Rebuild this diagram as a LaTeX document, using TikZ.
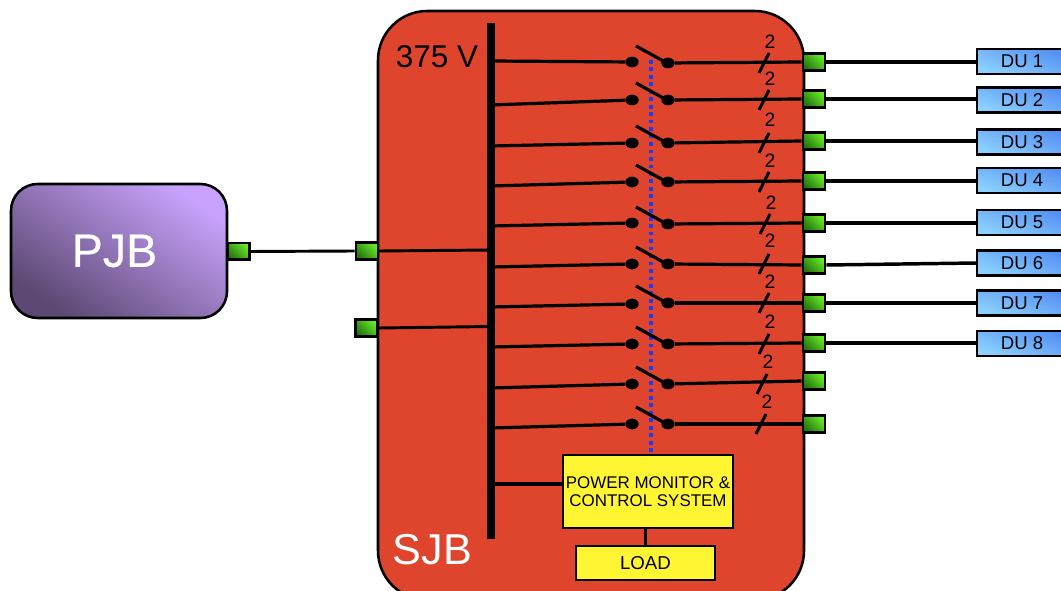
\documentclass[tikz,border=0pt]{standalone}
\usepackage{fontspec}
\usetikzlibrary{calc,shapes.geometric}
\setmainfont{Liberation Sans}
\newfontfamily\pjbfont[FakeBold=0.5]{Liberation Sans}
\tikzset{
  wire/.style={draw=black,line width=2.4pt},
  thinwire/.style={draw=black,line width=2.2pt},
  duwire/.style={draw=black,line width=2.6pt},
  portbox/.style={draw=black,line width=2pt,inner sep=0pt,minimum width=16.5pt,minimum height=12.5pt,
    shading=axis,left color=darkgreenport,right color=lightgreenport,shading angle=135},
  dubox/.style={draw=black,line width=1.8pt,inner sep=0pt,minimum width=67.5pt,minimum height=18.8pt,
    shading=axis,left color=dulight,right color=dudark,shading angle=160},
  yellowbox/.style={draw=black,line width=1.9pt,fill=boxyellow,inner sep=0pt},
  contact/.style={ellipse,fill=black,inner sep=0pt,minimum width=10pt,minimum height=8pt},
  dulabel/.style={font=\fontsize{13.9}{16}\selectfont,text=black},
  twolabel/.style={font=\fontsize{14.5}{16}\selectfont,text=black,inner sep=0pt},
}
\definecolor{sjbred}{HTML}{DF442C}
\definecolor{darkgreenport}{HTML}{23750F}
\definecolor{lightgreenport}{HTML}{68EA26}
\definecolor{dulight}{HTML}{8CD2FF}
\definecolor{dudark}{HTML}{5590F2}
\definecolor{boxyellow}{HTML}{FFF533}
\definecolor{pjblight}{HTML}{C8A2FC}
\definecolor{pjbdark}{HTML}{5C4872}
\definecolor{dotblue}{HTML}{1C3CF0}
\begin{document}
\begin{tikzpicture}[x=0.75pt,y=-0.75pt]
\useasboundingbox (0,0) rectangle (1061,591);
\clip (0,0) rectangle (1061,591);
% bodies
\node[draw=black,line width=1.9pt,fill=sjbred,rounded corners=37pt,inner sep=0pt,
  minimum width=319.5pt,minimum height=441.75pt] (sjb) at (591,305.5) {};
\node[draw=black,line width=1.9pt,rounded corners=20pt,inner sep=0pt,
  minimum width=162pt,minimum height=100.5pt,shading=axis,left color=pjbdark,right color=pjblight,shading angle=145] (pjb) at (119,251) {};
\node[text=white,font=\pjbfont\fontsize{35}{38}\selectfont,inner sep=0pt] (pjbl) at (114.5,251) {PJB};
\node[text=white,font=\fontsize{32.4}{35}\selectfont,inner sep=0pt] (sjbl) at (432.5,550) {SJB};
\node[text=black,font=\fontsize{23.6}{26}\selectfont,inner sep=0pt] (vl) at (437,57) {375 V};
% bus
\node[fill=black,inner sep=0pt,minimum width=6.4pt,minimum height=386.5pt] (bus) at (491,281) {};
% dotted control line
\coordinate (dtop) at (651,60);
% boxes
\node[yellowbox,minimum width=127.5pt,minimum height=54.5pt,align=center,
  font=\fontsize{12.7}{13.6}\selectfont] (pm) at (648,491.5) {POWER MONITOR \&\\CONTROL SYSTEM};
\node[yellowbox,minimum width=104.5pt,minimum height=25.5pt,font=\fontsize{14}{16}\selectfont] (load) at (645.5,563) {LOAD};
\draw[dotblue,line width=2.6pt,dash pattern=on 2.8pt off 2.8pt] (dtop) -- (pm.north -| dtop);
\draw[wire] (pm.south -| load.north) -- (load.north);
\coordinate (buspm) at (491,484);
\draw[duwire] (buspm) -- (buspm -| pm.west);
% input ports
\node[portbox] (pa) at (238.5,251.5) {};
\node[portbox] (pb) at (367,251) {};
\node[portbox] (pc) at (366.5,328) {};
\draw[thinwire] (pa.east) -- (pb.west);
\coordinate (busa) at (491,250);
\coordinate (busb) at (491,326.5);
\draw[thinwire] (pb.east) -- (busa);
\draw[thinwire] (pc.east) -- (busb);
% switch rows: n / bus y / left contact y / right contact y / port y / "2" y / "2" x
\foreach \n/\by/\ly/\ry/\py/\ty/\tx in {
 1/61/62/63/62/42/770,
 2/105/100/100/99/79/770,
 3/146/143/143/141/120/770,
 4/186/182/182/181/161/770,
 5/226/223/224/223/203/771,
 6/267/264/264/265/241/770,
 7/307/304/303/303/282/770,
 8/347/344/344/343/322/770,
 9/388/384/384/381/362/768,
 10/428/424/424/424/402/767}{
  \coordinate (b\n) at (491,\by);
  \node[contact] (l\n) at (632,\ly) {};
  \node[contact] (r\n) at (668,\ry) {};
  \node[portbox] (q\n) at (814,\py) {};
  \draw[wire] (b\n) -- (l\n);
  \draw[wire] (r\n) -- (q\n.west);
  \coordinate (armA\n) at ($(r\n)+(-32,-17)$);
  \coordinate (armB\n) at ($(r\n)+(-3,-1)$);
  \draw[wire] (armA\n) -- (armB\n);
  \coordinate (sA\n) at (\tx-1,\ry-10);
  \coordinate (sB\n) at (\tx-11,\ry+10);
  \draw[thinwire] (sA\n) -- (sB\n);
  \node[twolabel] (t\n) at (\tx,\ty) {2};
}
% DU boxes: n / box y / wire y
\foreach \n/\y/\w in {1/61.5/62,2/100/99,3/142/141,4/180.5/181,5/222.5/223,6/263/263,7/303/303,8/343.5/343}{
  \node[dubox] (d\n) at (1022,\y) {};
  \node[dulabel,inner sep=0pt] (dl\n) at (1022,\y) {DU \n};
  \coordinate (dw\n) at (977,\w);
  \draw[duwire] (q\n.east) -- (dw\n);
}
\end{tikzpicture}
\end{document}
